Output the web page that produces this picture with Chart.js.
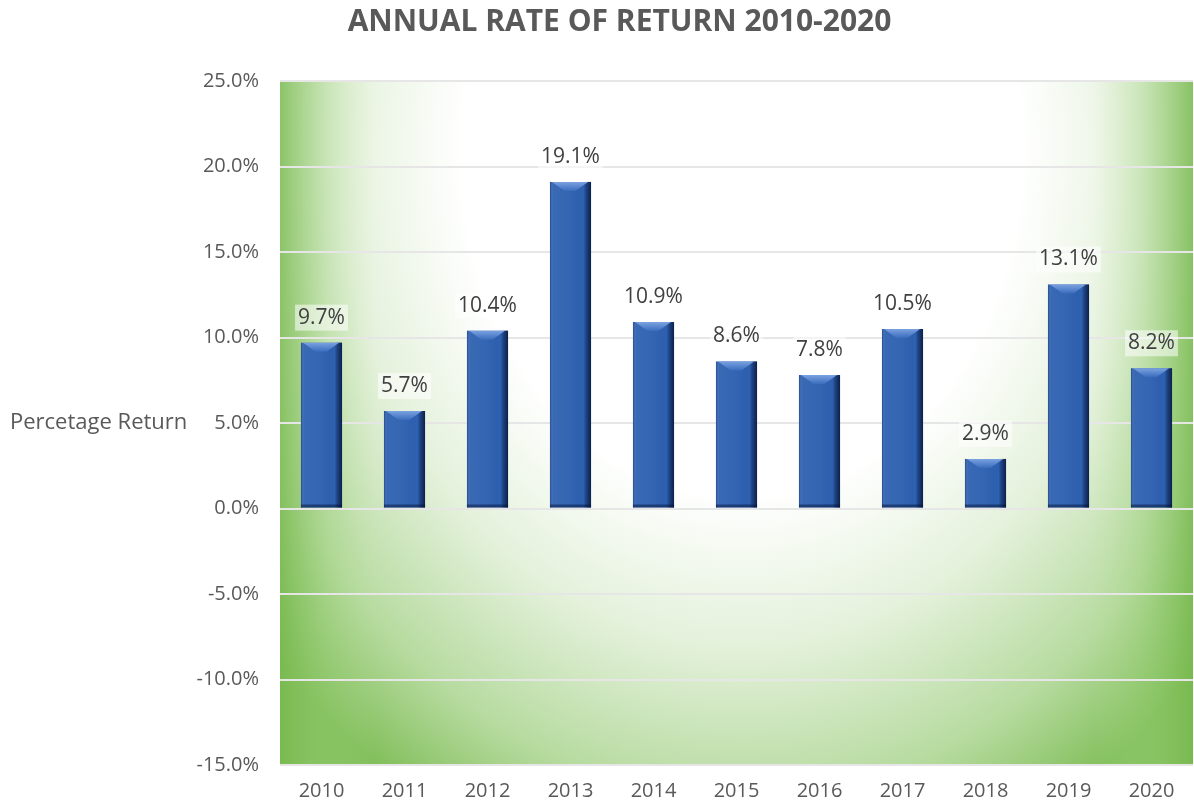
<!DOCTYPE html>
<html>
<head>
<meta charset="utf-8">
<script src="https://cdn.jsdelivr.net/npm/chart.js@4"></script>
<style>
  html, body { margin: 0; padding: 0; background: #fff; }
  #wrap { width: 1194px; height: 807px; }
</style>
</head>
<body>
<div id="wrap"><canvas id="returns-chart"></canvas></div>
<script>
const years = ["2010", "2011", "2012", "2013", "2014", "2015", "2016", "2017", "2018", "2019", "2020"];
const returns = [9.7, 5.7, 10.4, 19.1, 10.9, 8.6, 7.8, 10.5, 2.9, 13.1, 8.2];
const yMin = -15;
const yMax = 25;
const yStep = 5;
const chartTitle = "ANNUAL RATE OF RETURN 2010-2020";
const yAxisTitle = "Percetage Return";

const textColor = "#595959";
const fontFamily = "'Open Sans', sans-serif";

// green wash behind the plot area: white centre near the top, green towards edges
const plotBackground = {
    id: "plotBackground",
    beforeDraw(chart) {
        const { ctx, chartArea: a } = chart;
        const w = a.right - a.left;
        const h = a.bottom - a.top;
        const cx = (a.left + a.right) / 2 + 5;
        const cy = a.top + 70;
        const rx = 620;
        const ry = 760;
        ctx.save();
        ctx.beginPath();
        ctx.rect(a.left, a.top, w, h);
        ctx.clip();

        ctx.save();
        ctx.translate(cx, cy);
        ctx.scale(rx / ry, 1);
        const g = ctx.createRadialGradient(0, 0, 0, 0, 0, ry);
        g.addColorStop(0, "#ffffff");
        g.addColorStop(0.45, "#ffffff");
        g.addColorStop(0.65, "#e4f1db");
        g.addColorStop(0.85, "#b7dba0");
        g.addColorStop(1, "#82bf5b");
        ctx.fillStyle = g;
        ctx.fillRect(-rx * 2, -ry * 2, rx * 4, ry * 4);
        ctx.restore();

        // green strips down the left and right edges
        const left = ctx.createLinearGradient(a.left, 0, a.left + 95, 0);
        left.addColorStop(0, "rgba(118,184,76,0.75)");
        left.addColorStop(0.5, "rgba(150,205,115,0.3)");
        left.addColorStop(1, "rgba(180,220,150,0)");
        ctx.fillStyle = left;
        ctx.fillRect(a.left, a.top, 95, h);

        const right = ctx.createLinearGradient(a.right, 0, a.right - 100, 0);
        right.addColorStop(0, "rgba(118,184,76,0.8)");
        right.addColorStop(0.5, "rgba(150,205,115,0.35)");
        right.addColorStop(1, "rgba(180,220,150,0)");
        ctx.fillStyle = right;
        ctx.fillRect(a.right - 100, a.top, 100, h);
        ctx.restore();
    },
};

// bevel on each bar: dark right edge, light top chamfer
const barBevel = {
    id: "barBevel",
    afterDatasetsDraw(chart) {
        const { ctx } = chart;
        chart.getDatasetMeta(0).data.forEach((bar) => {
            const { x, y, base, width } = bar.getProps(["x", "y", "base", "width"], true);
            const l = x - width / 2;
            const r = x + width / 2;
            const h = base - y;
            ctx.save();
            const side = ctx.createLinearGradient(l, 0, r, 0);
            side.addColorStop(0, "rgba(10,30,80,0.35)");
            side.addColorStop(0.08, "rgba(255,255,255,0.06)");
            side.addColorStop(0.5, "rgba(255,255,255,0.03)");
            side.addColorStop(0.82, "rgba(0,0,0,0)");
            side.addColorStop(0.9, "rgba(5,20,60,0.45)");
            side.addColorStop(1, "rgba(5,15,45,0.8)");
            ctx.fillStyle = side;
            ctx.fillRect(l, y, width, h);

            const bev = Math.min(9, h / 2);
            const top = ctx.createLinearGradient(0, y, 0, y + bev);
            top.addColorStop(0, "#7ba2e0");
            top.addColorStop(1, "#3a6cbd");
            ctx.fillStyle = top;
            ctx.beginPath();
            ctx.moveTo(l + 2, y);
            ctx.lineTo(r - 3, y);
            ctx.lineTo(r - 3 - bev * 1.4, y + bev);
            ctx.lineTo(l + 2 + bev * 1.4, y + bev);
            ctx.closePath();
            ctx.fill();

            ctx.fillStyle = "rgba(5,20,60,0.5)";
            ctx.fillRect(l, base - 3, width, 3);
            ctx.restore();
        });
    },
};

// value labels above the bars
const valueLabels = {
    id: "valueLabels",
    afterDatasetsDraw(chart) {
        const { ctx } = chart;
        ctx.save();
        ctx.font = "21px " + fontFamily;
        ctx.textAlign = "center";
        ctx.textBaseline = "middle";
        chart.getDatasetMeta(0).data.forEach((bar, i) => {
            const text = returns[i].toFixed(1) + "%";
            const w = ctx.measureText(text).width;
            const ty = bar.y - 25;
            ctx.fillStyle = "rgba(255,255,255,0.55)";
            ctx.fillRect(bar.x - w / 2 - 3, ty - 13, w + 6, 26);
            ctx.fillStyle = "#404040";
            ctx.fillText(text, bar.x, ty);
        });
        ctx.restore();
    },
};

// horizontal y-axis title on the far left, level with the 5% tick
const sideTitle = {
    id: "sideTitle",
    afterDraw(chart) {
        const { ctx } = chart;
        const yPix = chart.scales.y.getPixelForValue(5);
        ctx.save();
        ctx.font = "22px " + fontFamily;
        ctx.fillStyle = textColor;
        ctx.textAlign = "left";
        ctx.textBaseline = "middle";
        ctx.fillText(yAxisTitle, 10, yPix);
        ctx.restore();
    },
};

const ctxEl = document.getElementById("returns-chart");

new Chart(ctxEl, {
    type: "bar",
    data: {
        labels: years,
        datasets: [
            {
                label: yAxisTitle,
                data: returns,
                backgroundColor: "#2d60b0",
                borderWidth: 0,
                barPercentage: 0.9,
                categoryPercentage: 0.55,
            },
        ],
    },
    options: {
        responsive: true,
        maintainAspectRatio: false,
        animation: false,
        devicePixelRatio: 1,
        layout: { padding: { left: 46, right: 1, top: 0, bottom: 0 } },
        plugins: {
            legend: { display: false },
            tooltip: { enabled: false },
            title: {
                display: true,
                text: chartTitle,
                color: textColor,
                font: { family: fontFamily, size: 30, weight: "bold" },
                padding: { top: 4, bottom: 41 },
            },
        },
        scales: {
            x: {
                grid: { display: false },
                border: { display: false },
                ticks: {
                    color: textColor,
                    font: { family: fontFamily, size: 20 },
                    padding: 6,
                },
                afterFit(scale) {
                    scale.height = 42;
                },
            },
            y: {
                min: yMin,
                max: yMax,
                grid: { color: "#e6e6e6", lineWidth: 2, drawTicks: false },
                border: { display: false },
                ticks: {
                    stepSize: yStep,
                    color: textColor,
                    font: { family: fontFamily, size: 20 },
                    padding: 21,
                    callback: (v) => v.toFixed(1) + "%",
                },
                afterFit(scale) {
                    scale.width = 234;
                },
            },
        },
    },
    plugins: [plotBackground, barBevel, valueLabels, sideTitle],
});
</script>
</body>
</html>
